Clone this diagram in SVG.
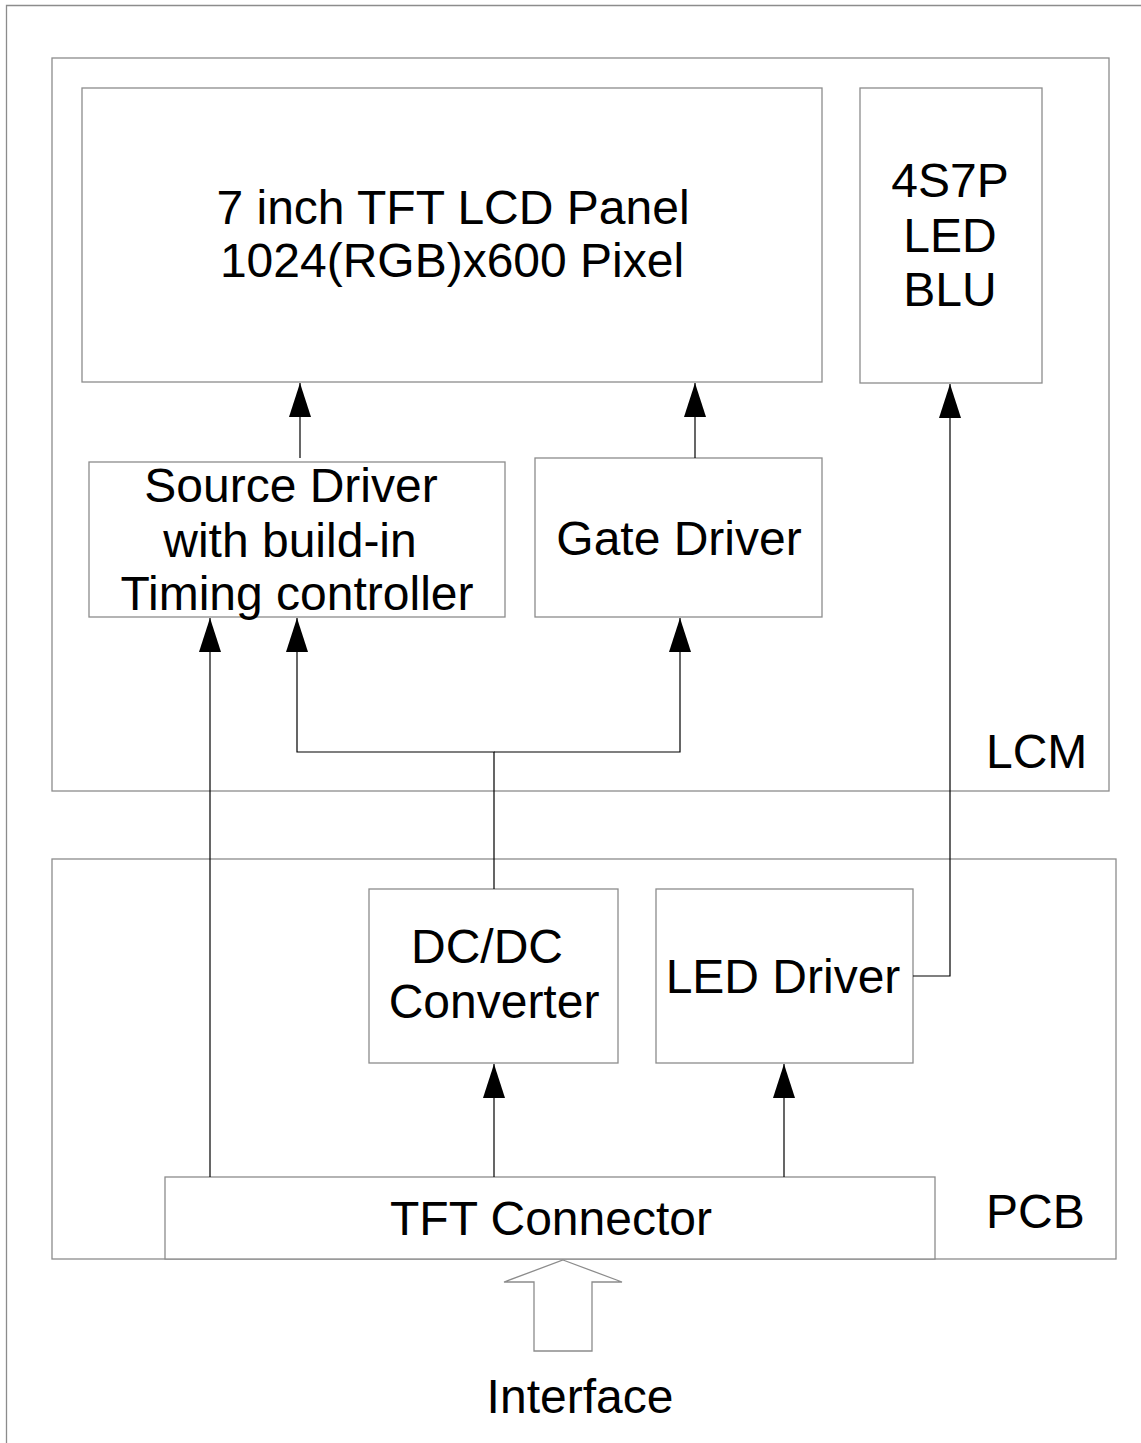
<svg xmlns="http://www.w3.org/2000/svg" width="1141" height="1443" viewBox="0 0 1141 1443">
<style>
.box{fill:#fff;stroke:#8c8c8c;stroke-width:1.3}
.frame{fill:none;stroke:#8c8c8c;stroke-width:1.3}
.con{fill:none;stroke:#000;stroke-width:1.2}
.t{font-family:"Liberation Sans",Arial,sans-serif;font-size:48px;fill:#000;text-anchor:middle}
.ta{font-family:"Liberation Sans",Arial,sans-serif;font-size:48px;fill:#000}
</style>
<defs>
<marker id="ah" markerUnits="userSpaceOnUse" markerWidth="34" markerHeight="22" refX="34" refY="11" orient="auto" viewBox="0 0 34 22">
<path d="M0,0 L34,11 L0,22 Z" fill="#000"/>
</marker>
</defs>
<rect width="1141" height="1443" fill="#fff"/>
<path class="frame" d="M1141,5.5 H6.5 V1443"/>
<g id="lcm"><rect class="box" x="52" y="58" width="1057" height="733"/><text class="ta" x="986" y="768">LCM</text></g>
<g id="pcb"><rect class="box" x="52" y="859" width="1064" height="400"/><text class="ta" x="986" y="1228">PCB</text></g>
<g id="panel"><rect class="box" x="82" y="88" width="740" height="294"/><text class="t" x="453" y="224">7 inch TFT LCD Panel</text><text class="t" x="452" y="277">1024(RGB)x600 Pixel</text></g>
<g id="blu"><rect class="box" x="860" y="88" width="182" height="295"/><text class="t" x="950" y="197">4S7P</text><text class="t" x="950" y="252">LED</text><text class="t" x="950" y="306">BLU</text></g>
<g id="source"><rect class="box" x="89" y="462" width="416" height="155"/><text class="t" x="291" y="502">Source Driver</text><text class="t" x="290" y="557">with build-in</text><text class="t" x="297" y="610">Timing controller</text></g>
<g id="gate"><rect class="box" x="535" y="458" width="287" height="159"/><text class="t" x="679" y="555">Gate Driver</text></g>
<g id="dcdc"><rect class="box" x="369" y="889" width="249" height="174"/><text class="t" x="487" y="963">DC/DC</text><text class="t" x="494" y="1018">Converter</text></g>
<g id="led"><rect class="box" x="656" y="889" width="257" height="174"/><text class="t" x="783" y="993">LED Driver</text></g>
<g id="conn"><rect class="box" x="165" y="1177" width="770" height="82"/><text class="t" x="551" y="1235">TFT Connector</text></g>
<g id="iface"><path class="frame" d="M563,1260 L622,1282 H592 V1351 H534 V1282 H504 Z"/><text class="t" x="580" y="1413">Interface</text></g>
<g id="connectors">
<path class="con" d="M300,458 V383" marker-end="url(#ah)"/>
<path class="con" d="M695,458 V383" marker-end="url(#ah)"/>
<path class="con" d="M913,976 H950 V384" marker-end="url(#ah)"/>
<path class="con" d="M210,1177 V618" marker-end="url(#ah)"/>
<path class="con" d="M494,889 V752 H297 V618" marker-end="url(#ah)"/>
<path class="con" d="M494,752 H680 V618" marker-end="url(#ah)"/>
<path class="con" d="M494,1177 V1064" marker-end="url(#ah)"/>
<path class="con" d="M784,1177 V1064" marker-end="url(#ah)"/>
</g>
</svg>
